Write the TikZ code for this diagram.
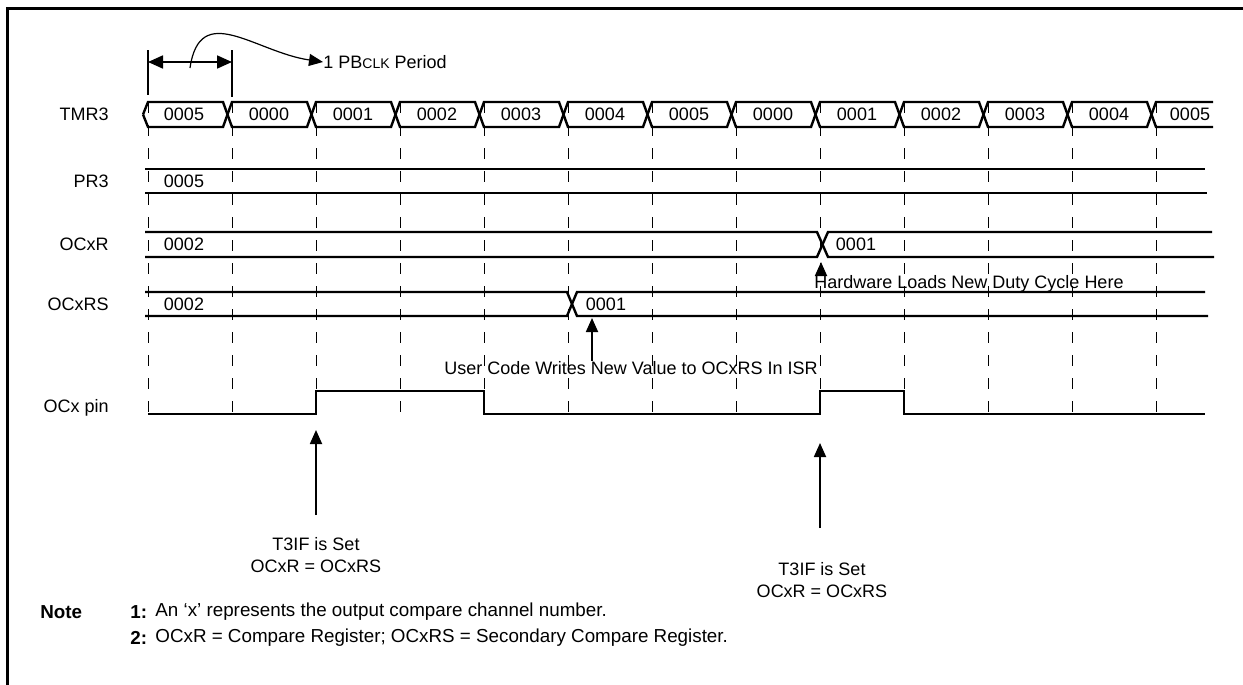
\documentclass[tikz,border=0pt]{standalone}
\usepackage{fontspec}
\setmainfont{Liberation Sans}
\usetikzlibrary{arrows.meta}

\tikzset{
  frameline/.style={line width=1.5pt},
  busline/.style={line width=1.2pt},
  gridline/.style={line width=0.5pt, dash pattern=on 5.5pt off 6pt},
  pinline/.style={line width=1.2pt},
  uparrow/.style={line width=0.9pt, -{Triangle[length=7pt,width=6pt]}},
  dimarrow/.style={line width=0.9pt, {Triangle[length=7.5pt,width=6.5pt]}-{Triangle[length=7.5pt,width=6.5pt]}},
  rowlabel/.style={anchor=east, inner sep=0pt},
  busvalue/.style={inner sep=0pt},
  plain/.style={inner sep=0pt},
  notetext/.style={inner sep=0pt, anchor=west, font=\fontsize{9.4}{11}\selectfont},
}

\begin{document}
\begin{tikzpicture}[x=0.5pt, y=-0.5pt, font=\fontsize{9}{11}\selectfont]
\useasboundingbox (0,0) rectangle (1243,685);
\draw[frameline] (7,685) -- (7,8) -- (1243,8);

\coordinate (perleft) at (148,62);
\coordinate (perright) at (232,62);
\coordinate (pertail) at (190,68);
\draw[line width=0.8pt] (148,50) -- (148,95);
\draw[line width=0.8pt] (232,50) -- (232,97);
\draw[dimarrow] (perleft) -- (perright);
\node[plain, anchor=west] (pertext) at (323,62) {1 PB{\fontsize{7}{8}\selectfont CLK} Period};
\draw[line width=0.6pt, -{Triangle[length=7pt,width=6pt]}] (pertail) .. controls (200,0) and (255,52) .. (pertext.west);

\node[rowlabel] (lbltmr) at (109,114.5) {TMR3};
\node[rowlabel] (lblpr) at (109,181) {PR3};
\node[rowlabel] (lblocr) at (109,244) {OCxR};
\node[rowlabel] (lblocrs) at (109,304) {OCxRS};
\node[rowlabel] (lblpin) at (109,408) {OCx pin};

\draw[gridline] (148,102) -- (148,414);
\draw[gridline] (232,102) -- (232,414);
\draw[gridline] (316,102) -- (316,414);
\draw[gridline] (400,102) -- (400,414);
\draw[gridline] (484,102) -- (484,414);
\draw[gridline] (568,102) -- (568,414);
\draw[gridline] (652,102) -- (652,414);
\draw[gridline] (736,102) -- (736,414);
\draw[gridline] (820,102) -- (820,414);
\draw[gridline] (904,102) -- (904,414);
\draw[gridline] (988,102) -- (988,414);
\draw[gridline] (1072,102) -- (1072,414);
\draw[gridline] (1156,102) -- (1156,414);

\draw[busline] (143,114.5) -- (148,102) -- (223,102) -- (232,127) -- (307,127) -- (316,102) -- (391,102) -- (400,127) -- (475,127) -- (484,102) -- (559,102) -- (568,127) -- (643,127) -- (652,102) -- (727,102) -- (736,127) -- (811,127) -- (820,102) -- (895,102) -- (904,127) -- (979,127) -- (988,102) -- (1063,102) -- (1072,127) -- (1147,127) -- (1156,102) -- (1213,102);
\draw[busline] (143,114.5) -- (148,127) -- (223,127) -- (232,102) -- (307,102) -- (316,127) -- (391,127) -- (400,102) -- (475,102) -- (484,127) -- (559,127) -- (568,102) -- (643,102) -- (652,127) -- (727,127) -- (736,102) -- (811,102) -- (820,127) -- (895,127) -- (904,102) -- (979,102) -- (988,127) -- (1063,127) -- (1072,102) -- (1147,102) -- (1156,127) -- (1213,127);
\node[busvalue] (tmrv0) at (184,114.5) {0005};
\node[busvalue] (tmrv1) at (269,114.5) {0000};
\node[busvalue] (tmrv2) at (353,114.5) {0001};
\node[busvalue] (tmrv3) at (437,114.5) {0002};
\node[busvalue] (tmrv4) at (521,114.5) {0003};
\node[busvalue] (tmrv5) at (605,114.5) {0004};
\node[busvalue] (tmrv6) at (689,114.5) {0005};
\node[busvalue] (tmrv7) at (773,114.5) {0000};
\node[busvalue] (tmrv8) at (857,114.5) {0001};
\node[busvalue] (tmrv9) at (941,114.5) {0002};
\node[busvalue] (tmrv10) at (1025,114.5) {0003};
\node[busvalue] (tmrv11) at (1109,114.5) {0004};
\node[busvalue] (tmrv12) at (1190,114.5) {0005};

\draw[busline] (145,169) -- (1205,169);
\draw[busline] (145,193) -- (1207,193);
\node[busvalue] (prv0) at (184,181) {0005};

\draw[busline] (145,232) -- (817,232) -- (828,257) -- (1214,257);
\draw[busline] (145,257) -- (817,257) -- (828,232) -- (1212,232);
\node[busvalue] (ocrv0) at (184,244) {0002};
\node[busvalue] (ocrv1) at (856,244) {0001};

\draw[busline] (145,292) -- (567,292) -- (577,316) -- (1208,316);
\draw[busline] (145,316) -- (567,316) -- (577,292) -- (1205,292);
\node[busvalue] (ocrsv0) at (184,304) {0002};
\node[busvalue] (ocrsv1) at (606,304) {0001};

\draw[pinline] (148,414) -- (316,414) -- (316,391) -- (484,391) -- (484,414) -- (820,414) -- (820,391) -- (904,391) -- (904,414) -- (1205,414);

\coordinate (hwload) at (821,262);
\node[plain] (hwtext) at (969,284) {Hardware Loads New Duty Cycle Here};
\draw[uparrow] (hwtext.north -| hwload) -- (hwload);

\coordinate (userwrite) at (592,318);
\node[plain] (usertext) at (631,368) {User Code Writes New Value to OCxRS In ISR};
\draw[uparrow] (usertext.north -| userwrite) -- (userwrite);

\coordinate (setatip) at (316,430);
\coordinate (setatail) at (316,515);
\node[plain, anchor=north, align=center] (setatext) at (316,537) {T3IF is Set\\OCxR = OCxRS};
\draw[uparrow] (setatail) -- (setatip);

\coordinate (setbtip) at (820,443);
\coordinate (setbtail) at (820,528);
\node[plain, anchor=north, align=center] (setbtext) at (822,562) {T3IF is Set\\OCxR = OCxRS};
\draw[uparrow] (setbtail) -- (setbtip);

\node[notetext] (notehead) at (40,612) {\bfseries Note};
\node[notetext] (notenum1) at (130,612) {\bfseries 1:};
\node[notetext] (notetext1) at (155,612) {An ‘x’ represents the output compare channel number.};
\node[notetext] (notenum2) at (130,638) {\bfseries 2:};
\node[notetext] (notetext2) at (155,638) {OCxR = Compare Register; OCxRS = Secondary Compare Register.};
\end{tikzpicture}
\end{document}
